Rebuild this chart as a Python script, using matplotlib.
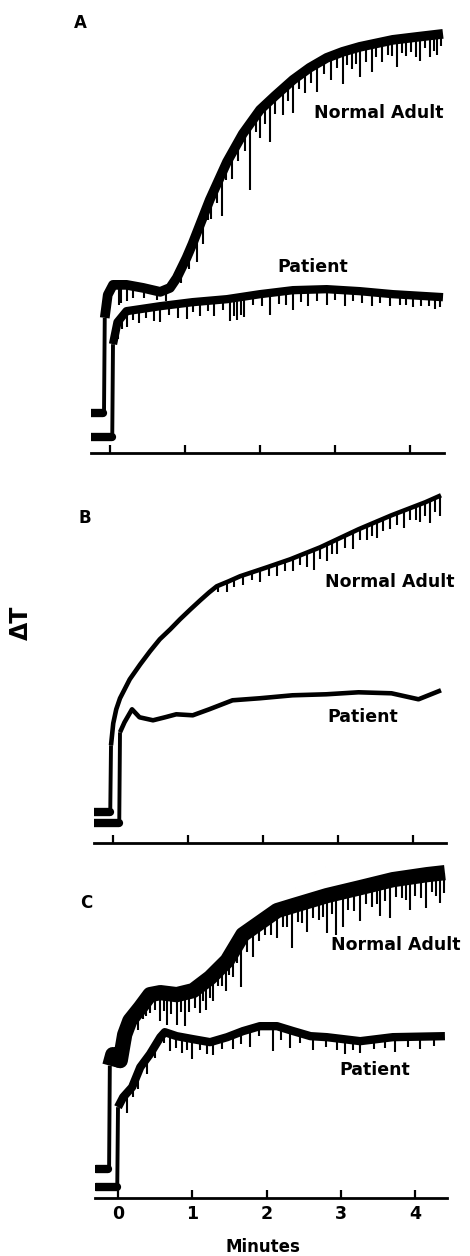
import numpy as np
import matplotlib
matplotlib.use("Agg")
import matplotlib.pyplot as plt

# Platelet aggregation traces (change in light transmission, arbitrary units)
# x in minutes, y = height above the baseline axis
# each trace: 2 baseline points, jump start, then the response curve

# ---- Panel A ----
a_norm_x = [-0.25, -0.09, -0.08, -0.07, -0.03, 0.04, 0.22, 0.44, 0.67, 0.80, 0.89, 1.02,
            1.10, 1.33, 1.56, 1.77, 2.00, 2.20, 2.44, 2.66, 2.89, 3.10, 3.33, 3.77, 4.10, 4.44]
a_norm_y = [40, 40, 40, 140, 163, 173, 173, 170, 166, 170, 180, 200,
            214, 258, 296, 324, 348, 362, 378, 390, 400, 406, 411, 418, 421, 424]
a_pat_x = [-0.25, 0.02, 0.03, 0.04, 0.10, 0.22, 0.67, 1.10, 1.56, 2.00, 2.44, 2.89, 3.33,
           3.77, 4.44]
a_pat_y = [16, 16, 16, 113, 135, 146, 151, 155, 158, 163, 167, 168, 166,
           163, 160]
a_norm_spk_x = [0.12, 0.15, 0.22, 0.30, 0.45, 0.62, 0.75, 0.95, 1.05, 1.16, 1.24, 1.30, 1.35,
                1.42, 1.49, 1.55, 1.62, 1.70, 1.80, 1.87, 1.94, 2.00, 2.06, 2.13, 2.20, 2.30,
                2.37, 2.44, 2.52, 2.60, 2.68, 2.76, 2.85, 2.95, 3.02, 3.10, 3.16, 3.22, 3.28,
                3.33, 3.41, 3.49, 3.55, 3.62, 3.70, 3.76, 3.82, 3.89, 3.95, 4.02, 4.08, 4.13,
                4.20, 4.27, 4.32, 4.36, 4.41]
a_norm_spk_d = [20, 18, 16, 12, 10, 9, 12, 14, 16, 30, 27, 14, 22,
                18, 43, 16, 25, 18, 20, 67, 16, 28, 18, 41, 18, 26,
                16, 33, 14, 22, 16, 28, 14, 24, 14, 32, 14, 20, 16,
                30, 16, 28, 14, 20, 14, 16, 28, 14, 18, 14, 20, 24,
                12, 22, 16, 20, 12]
a_pat_spk_x = [0.11, 0.16, 0.22, 0.30, 0.38, 0.48, 0.58, 0.67, 0.78, 0.91, 1.02, 1.10, 1.20,
               1.30, 1.38, 1.50, 1.60, 1.65, 1.69, 1.74, 1.78, 1.90, 2.02, 2.13, 2.25, 2.34,
               2.44, 2.54, 2.64, 2.76, 2.89, 3.00, 3.13, 3.24, 3.36, 3.49, 3.60, 3.73, 3.86,
               3.95, 4.04, 4.15, 4.25, 4.33, 4.40]
a_pat_spk_d = [18, 12, 16, 10, 14, 10, 14, 16, 10, 14, 16, 10, 14,
               10, 16, 10, 22, 18, 22, 18, 20, 10, 12, 22, 12, 14,
               20, 12, 16, 12, 16, 10, 16, 10, 12, 14, 10, 12, 10,
               10, 12, 10, 10, 12, 10]

# ---- Panel B ----
b_norm_x = [-0.25, -0.04, -0.03, -0.02, 0.01, 0.05, 0.10, 0.23, 0.37, 0.50, 0.63, 0.77,
            0.90, 1.04, 1.17, 1.29, 1.39, 1.55, 1.70, 2.06, 2.37, 2.77, 3.28, 3.72, 4.17, 4.38]
b_norm_y = [31, 31, 31, 100, 122, 136, 147, 166, 181, 194, 206, 216,
            226, 236, 245, 253, 259, 264, 269, 278, 286, 298, 316, 330, 343, 350]
b_pat_x = [-0.25, 0.08, 0.09, 0.10, 0.16, 0.26, 0.36, 0.54, 0.70, 0.85, 1.07, 1.29, 1.60,
           1.96, 2.40, 2.85, 3.28, 3.72, 4.08, 4.38]
b_pat_y = [20, 20, 20, 113, 123, 136, 128, 125, 128, 131, 130, 136, 145,
           147, 150, 151, 153, 152, 146, 155]
b_norm_spk_x = [1.40, 1.52, 1.62, 1.74, 1.86, 1.97, 2.08, 2.19, 2.30, 2.41, 2.50, 2.59, 2.68,
                2.77, 2.86, 2.93, 2.99, 3.10, 3.21, 3.30, 3.39, 3.46, 3.52, 3.61, 3.70,
                3.79, 3.88, 3.97, 4.04, 4.10, 4.17, 4.23, 4.30, 4.37]
b_norm_spk_d = [6, 10, 8, 10, 8, 12, 9, 12, 10, 13, 10, 14, 20,
                12, 17, 12, 14, 12, 17, 11, 14, 12, 16, 12, 13,
                12, 17, 12, 14, 18, 14, 23, 14, 20]

# ---- Panel C ----
c_norm_x = [-0.30, -0.13, -0.12, -0.11, -0.07, 0.03, 0.09, 0.16, 0.30, 0.43, 0.57, 0.79,
            1.01, 1.24, 1.47, 1.68, 1.91, 2.14, 2.36, 2.81, 3.26, 3.70, 4.16, 4.40]
c_norm_y = [29, 29, 29, 140, 151, 145, 171, 185, 198, 211, 213, 211,
            215, 228, 245, 271, 283, 295, 300, 310, 318, 326, 331, 333]
c_pat_x = [-0.30, -0.02, -0.01, 0.00, 0.07, 0.19, 0.30, 0.43, 0.57, 0.63, 0.79, 1.01, 1.24,
           1.47, 1.68, 1.91, 2.14, 2.36, 2.59, 2.81, 3.26, 3.70, 4.40]
c_pat_y = [11, 11, 11, 95, 105, 115, 135, 148, 165, 170, 166, 163, 160,
           165, 171, 176, 176, 171, 166, 165, 161, 165, 166]
c_norm_spk_x = [0.10, 0.16, 0.22, 0.27, 0.33, 0.38, 0.43, 0.50, 0.57, 0.62, 0.66, 0.72, 0.79,
                0.85, 0.90, 0.96, 1.03, 1.10, 1.15, 1.19, 1.24, 1.28, 1.34, 1.40, 1.46, 1.50,
                1.55, 1.60, 1.66, 1.74, 1.82, 1.90, 1.98, 2.06, 2.14, 2.22, 2.28, 2.34, 2.42,
                2.48, 2.54, 2.62, 2.70, 2.76, 2.81, 2.88, 2.94, 3.03, 3.10, 3.18, 3.26, 3.34,
                3.42, 3.48, 3.53, 3.60, 3.66, 3.74, 3.82, 3.88, 3.93, 4.00, 4.08, 4.15, 4.22,
                4.28, 4.33, 4.39]
c_norm_spk_d = [14, 20, 14, 20, 14, 16, 18, 16, 28, 18, 32, 20, 30,
                18, 33, 20, 18, 27, 18, 30, 20, 26, 16, 20, 30, 18,
                26, 18, 50, 20, 30, 18, 16, 20, 27, 18, 20, 42, 18,
                20, 30, 18, 22, 20, 37, 20, 42, 35, 20, 22, 33, 18,
                22, 20, 33, 20, 38, 18, 20, 22, 33, 20, 22, 33, 18,
                22, 30, 20]
c_pat_spk_x = [0.12, 0.20, 0.27, 0.39, 0.50, 0.62, 0.70, 0.78, 0.86, 0.93, 0.99, 1.10, 1.20,
               1.28, 1.40, 1.55, 1.66, 1.78, 1.90, 2.09, 2.20, 2.31, 2.45, 2.63, 2.80, 2.95,
               3.06, 3.16, 3.26, 3.45, 3.60, 3.73, 3.90, 4.06, 4.25]
c_pat_spk_d = [20, 12, 16, 16, 12, 10, 17, 12, 16, 12, 20, 10, 12,
               14, 10, 14, 12, 18, 10, 25, 12, 18, 10, 14, 10, 12,
               15, 10, 12, 10, 10, 15, 10, 12, 10]

minute_ticks = [0, 1, 2, 3, 4]

W, H = 470, 1256
fig = plt.figure(figsize=(W / 100, H / 100), dpi=100)
plt.rcParams["font.family"] = ["DejaVu Sans"]


def add_panel(zero_px, ppm, bottom_px, top_px, xmin, xmax):
    left = zero_px + xmin * ppm
    width = (xmax - xmin) * ppm
    ax = fig.add_axes([left / W, (H - bottom_px) / H, width / W, (bottom_px - top_px) / H])
    ax.set_xlim(xmin, xmax)
    ax.set_ylim(0, bottom_px - top_px)
    for s in ["top", "right", "left"]:
        ax.spines[s].set_visible(False)
    ax.spines["bottom"].set_linewidth(2.0)
    ax.set_yticks([])
    ax.set_xticks(minute_ticks)
    ax.tick_params(axis="x", direction="in", length=6, width=1.6, labelbottom=False)
    return ax


def trace(ax, x, y, lw, spk_x=None, spk_d=None):
    x = np.array(x)
    y = np.array(y, dtype=float)
    half = lw * 100 / 72 / 2  # data units are pixels
    yc = y - half
    yc[:3] = y[:3]
    # baseline + thin vertical jump, thick response curve
    ax.plot(x[:4], yc[:4], color="black", lw=2.8, solid_capstyle="butt")
    ax.plot(x[:2], yc[:2], color="black", lw=6, solid_capstyle="round")
    ax.plot(x[3:], yc[3:], color="black", lw=lw, solid_joinstyle="round",
            solid_capstyle="butt")
    if spk_x is not None:
        base = np.interp(spk_x, x[3:], yc[3:])
        ax.vlines(spk_x, base - np.array(spk_d), base, color="black", lw=1.5)


label_kw = dict(fontsize=12.5, fontweight="bold", ha="center", va="center")
panel_kw = dict(fontsize=12, fontweight="bold", ha="center", va="center")

# A
axA = add_panel(110, 75, 453, 20, -0.25, 4.45)
trace(axA, a_norm_x, a_norm_y, 7, a_norm_spk_x, a_norm_spk_d)
trace(axA, a_pat_x, a_pat_y, 6, a_pat_spk_x, a_pat_spk_d)
fig.text(80 / W, 1 - 23 / H, "A", **panel_kw)
fig.text(379 / W, 1 - 113 / H, "Normal Adult", **label_kw)
fig.text(313 / W, 1 - 267 / H, "Patient", **label_kw)

# B
axB = add_panel(112.5, 75, 843, 480, -0.25, 4.45)
trace(axB, b_norm_x, b_norm_y, 3.3, b_norm_spk_x, b_norm_spk_d)
trace(axB, b_pat_x, b_pat_y, 3.3)
fig.text(85 / W, 1 - 518 / H, "B", **panel_kw)
fig.text(390 / W, 1 - 582 / H, "Normal Adult", **label_kw)
fig.text(363 / W, 1 - 717 / H, "Patient", **label_kw)

# C
axC = add_panel(118, 74.3, 1198, 850, -0.31, 4.43)
trace(axC, c_norm_x, c_norm_y, 11, c_norm_spk_x, c_norm_spk_d)
trace(axC, c_pat_x, c_pat_y, 6, c_pat_spk_x, c_pat_spk_d)
fig.text(86 / W, 1 - 903 / H, "C", **panel_kw)
fig.text(396 / W, 1 - 945 / H, "Normal Adult", **label_kw)
fig.text(375 / W, 1 - 1070 / H, "Patient", **label_kw)
axC.tick_params(axis="x", labelbottom=True, labelsize=12.5, pad=5)
for t in axC.get_xticklabels():
    t.set_fontweight("bold")
fig.text(263 / W, 1 - 1247 / H, "Minutes", fontsize=12, fontweight="bold",
         ha="center", va="center")

fig.text(21 / W, 1 - 623 / H, "ΔT", fontsize=17, fontweight="bold", rotation=90,
         ha="center", va="center")

fig.savefig("out.png", dpi=100)
